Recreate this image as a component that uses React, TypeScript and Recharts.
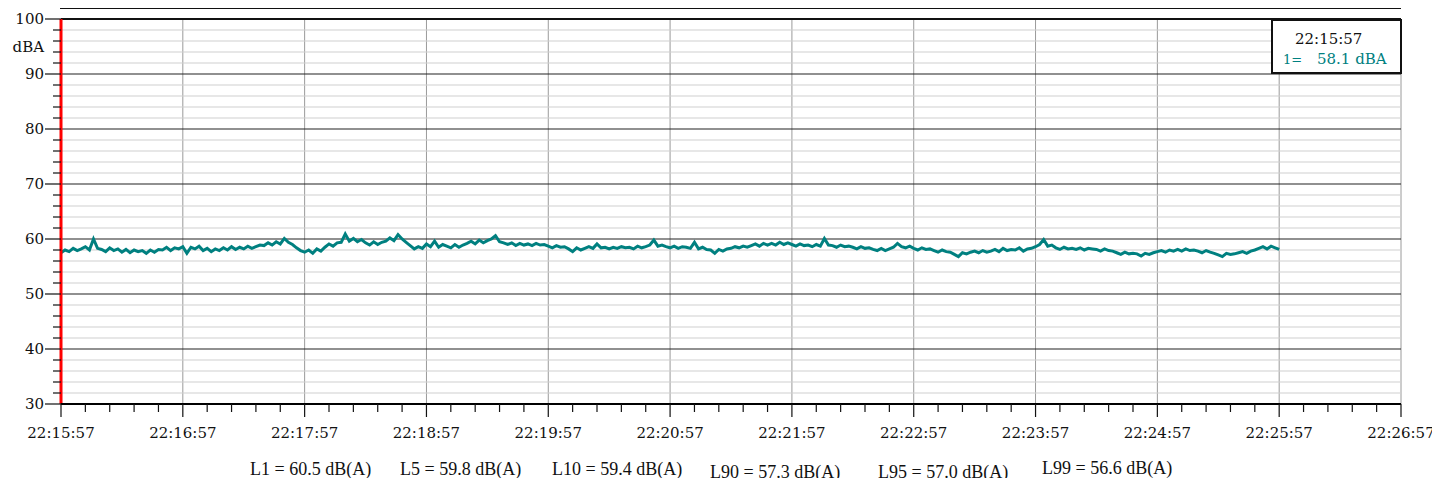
import { LineChart, Line, XAxis, YAxis, CartesianGrid, ReferenceLine } from 'recharts'

// sound level, one reading every 2 s from 22:15:57
const sampleStep = 2
const levels = [
  57.5, 58.0, 57.7, 58.3, 57.9, 58.2, 58.6, 58.0, 60.0, 58.3,
  58.1, 57.7, 58.4, 57.9, 58.2, 57.6, 58.1, 57.5, 58.0, 57.7,
  57.9, 57.4, 58.0, 57.6, 58.1, 58.0, 58.5, 57.9, 58.4, 58.2,
  58.6, 57.4, 58.5, 58.2, 58.7, 57.9, 58.3, 57.7, 58.2, 57.9,
  58.4, 58.0, 58.6, 58.1, 58.5, 58.2, 58.7, 58.3, 58.6, 58.9,
  58.8, 59.3, 58.9, 59.5, 59.1, 60.1, 59.4, 59.0, 58.4, 57.9,
  57.6, 58.0, 57.4, 58.2, 57.8, 58.5, 59.1, 58.7, 59.3, 59.4,
  60.9, 59.6, 60.1, 59.5, 59.9, 59.3, 58.9, 59.5, 59.0, 59.4,
  59.6, 60.2, 59.7, 60.8, 60.0, 59.4, 58.8, 58.2, 58.6, 58.3,
  59.1, 58.6, 59.6, 58.5, 59.0, 58.7, 58.4, 59.0, 58.5, 58.9,
  59.2, 59.6, 59.1, 59.8, 59.3, 59.7, 60.0, 60.6, 59.5, 59.3,
  59.0, 59.3, 58.8, 59.2, 58.9, 59.1, 58.8, 59.2, 58.9, 59.0,
  58.7, 58.4, 58.8, 58.5, 58.6, 58.2, 57.7, 58.4, 58.0, 58.3,
  58.6, 58.3, 59.1, 58.4, 58.5, 58.2, 58.5, 58.3, 58.6, 58.4,
  58.5, 58.2, 58.7, 58.4, 58.6, 58.9, 59.8, 58.7, 58.9, 58.6,
  58.4, 58.7, 58.3, 58.6, 58.5, 58.3, 59.4, 58.2, 58.5, 58.1,
  58.0, 57.4, 58.1, 57.8, 58.2, 58.3, 58.6, 58.4, 58.7, 58.5,
  58.8, 59.1, 58.7, 59.2, 58.9, 59.2, 58.9, 59.4, 59.0, 59.3,
  59.0, 58.7, 59.1, 58.8, 58.9, 58.6, 59.0, 58.7, 60.1, 58.9,
  58.8, 58.5, 58.9, 58.6, 58.7, 58.5, 58.2, 58.6, 58.3, 58.4,
  58.1, 57.9, 58.3, 57.9, 58.2, 58.5, 59.2, 58.6, 58.4, 58.7,
  58.3, 58.0, 58.4, 58.1, 58.2, 57.9, 57.6, 58.0, 57.7, 57.6,
  57.2, 56.8, 57.5, 57.3, 57.6, 57.8, 57.5, 57.9, 57.6, 57.8,
  58.1, 57.7, 58.3, 57.9, 58.1, 58.0, 58.4, 57.8, 58.2, 58.3,
  58.6, 59.0, 59.9, 58.7, 58.9, 58.4, 58.1, 58.5, 58.2, 58.3,
  58.1, 58.4, 58.0, 58.3, 58.2, 58.1, 57.8, 58.2, 57.9, 57.8,
  57.5, 57.2, 57.6, 57.3, 57.4, 57.3, 56.9, 57.4, 57.2, 57.5,
  57.7, 57.9, 57.6, 58.0, 57.8, 58.1, 57.8, 58.2, 57.9, 58.0,
  57.8, 57.5, 57.9, 57.6, 57.4, 57.1, 56.8, 57.4, 57.2, 57.3,
  57.5, 57.7, 57.4, 57.8, 58.0, 58.3, 58.6, 58.2, 58.7, 58.4,
  58.1,
]

const minuteLabels = [
  '22:15:57', '22:16:57', '22:17:57', '22:18:57', '22:19:57', '22:20:57',
  '22:21:57', '22:22:57', '22:23:57', '22:24:57', '22:25:57', '22:26:57',
]

const cursorTime = '22:15:57'
const cursorValue = '58.1 dBA'

const stats = [
  'L1 = 60.5 dB(A)',
  'L5 = 59.8 dB(A)',
  'L10 = 59.4 dB(A)',
  'L90 = 57.3 dB(A)',
  'L95 = 57.0 dB(A)',
  'L99 = 56.6 dB(A)',
]
const statPos = [
  [242, 452], [392, 452], [544, 452], [702, 455], [870, 455], [1034, 451],
]

const data = levels.map((v, i) => ({ t: i * sampleStep, v }))

const xMajor = minuteLabels.map((_, i) => i * 60)
const xTicks: number[] = []
for (let s = 0; s <= 660; s += 12) xTicks.push(s)
const yTicks: number[] = []
for (let d = 30; d <= 100; d += 2) yTicks.push(d)
const yMinor = yTicks.filter((d) => d % 10 !== 0)
const yMajor = yTicks.filter((d) => d % 10 === 0)

const axisFont = '"DejaVu Serif", serif'
const teal = '#008080'

function XTick({ x, y, payload }: any) {
  const t = payload.value as number
  const major = t % 60 === 0
  return (
    <g>
      <line x1={x} x2={x} y1={y} y2={y + (major ? 13 : 8)} stroke='#111' strokeWidth={1.2} />
      {major && (
        <text x={x} y={y + 34} textAnchor='middle' fontFamily={axisFont} fontSize={15} fill='#111'>
          {minuteLabels[t / 60]}
        </text>
      )}
    </g>
  )
}

function YTick({ x, y, payload }: any) {
  const d = payload.value as number
  const major = d % 10 === 0
  return (
    <g>
      <line x1={x - (major ? 16 : 8)} x2={x} y1={y} y2={y} stroke='#111' strokeWidth={1.2} />
      {major && (
        <text x={x - 17} y={y + 5} textAnchor='end' fontFamily={axisFont} fontSize={15} fill='#111'>
          {d}
        </text>
      )}
      {d === 100 && (
        <text x={x - 17} y={y + 33} textAnchor='end' fontFamily={axisFont} fontSize={15} fill='#111'>
          dBA
        </text>
      )}
    </g>
  )
}

export default function App() {
  return (
    <div style={{ position: 'relative', width: 1432, height: 470 }}>
      <LineChart
        width={1432}
        height={470}
        data={data}
        margin={{ top: 11, right: 39, left: 0, bottom: 0 }}
      >
        <CartesianGrid horizontal={false} verticalValues={xMajor} stroke='#9a9a9a' />
        <CartesianGrid vertical={false} horizontalValues={yMinor} stroke='#cfcfcf' />
        <CartesianGrid vertical={false} horizontalValues={yMajor} stroke='#222' strokeWidth={1.2} />
        <XAxis
          type='number'
          dataKey='t'
          domain={[0, 660]}
          ticks={xTicks}
          interval={0}
          height={74}
          tickSize={0}
          tickMargin={0}
          tick={<XTick />}
          axisLine={{ stroke: '#000', strokeWidth: 2 }}
        />
        <YAxis
          type='number'
          domain={[30, 100]}
          ticks={yTicks}
          interval={0}
          width={53}
          tickSize={0}
          tickMargin={0}
          tick={<YTick />}
          axisLine={false}
        />
        <ReferenceLine y={100} stroke='#111' strokeWidth={2} />
        <Line
          type='linear'
          dataKey='v'
          stroke={teal}
          strokeWidth={3}
          dot={false}
          isAnimationActive={false}
        />
        <ReferenceLine x={0} stroke='#ff0000' strokeWidth={3} />
      </LineChart>

      <div
        style={{
          position: 'absolute', left: 52, top: -10, width: 1341, height: 11,
          border: '1.5px solid #111', borderTop: 'none', boxSizing: 'border-box',
        }}
      />

      <div
        style={{
          position: 'absolute', left: 1263, top: 11, width: 131, height: 55,
          border: '2px solid #111', boxSizing: 'border-box', background: '#fff',
          fontFamily: axisFont, fontSize: 15, lineHeight: 1,
        }}
      >
        <div style={{ position: 'absolute', left: 22, top: 11, color: '#111' }}>{cursorTime}</div>
        <div style={{ position: 'absolute', left: 10, top: 32, color: teal, fontSize: 13 }}>1=</div>
        <div style={{ position: 'absolute', left: 44, top: 31, color: teal }}>{cursorValue}</div>
      </div>

      {stats.map((s, i) => (
        <div
          key={s}
          style={{
            position: 'absolute', left: statPos[i][0], top: statPos[i][1],
            fontFamily: '"Liberation Serif", serif', fontSize: 18, lineHeight: 1,
            whiteSpace: 'nowrap', color: '#111',
          }}
        >
          {s}
        </div>
      ))}
    </div>
  )
}
